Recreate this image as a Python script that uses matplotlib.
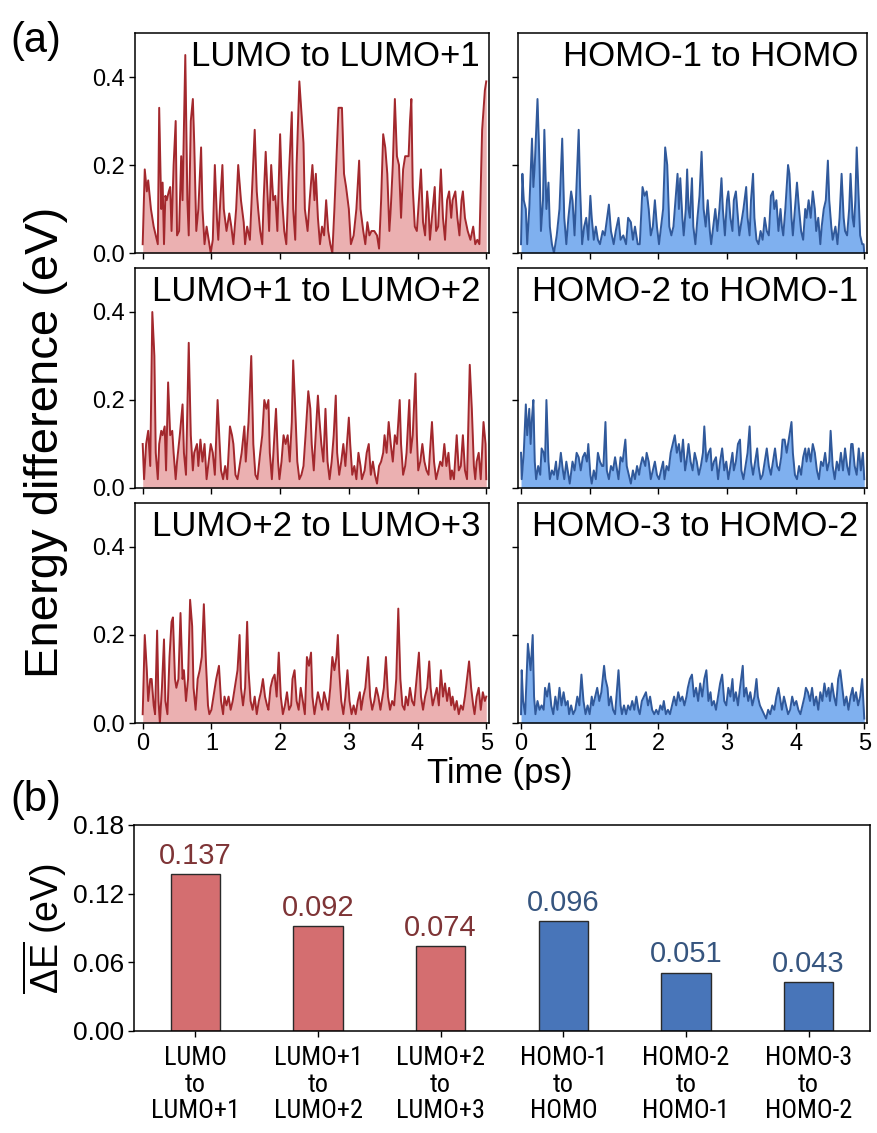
import numpy as np
import matplotlib
matplotlib.use("Agg")
import matplotlib.pyplot as plt
from matplotlib import font_manager

plt.rcParams['font.family'] = ['Liberation Sans', 'DejaVu Sans']
plt.rcParams['mathtext.fontset'] = 'custom'
plt.rcParams['mathtext.rm'] = 'Liberation Sans'
plt.rcParams['mathtext.it'] = 'Liberation Sans'

# ---- energy-gap trajectories: (time in ps, gap in eV) ----
lumo_0_1 = [(0.00,0.02),(0.03,0.19),(0.06,0.14),(0.08,0.165),(0.12,0.10),(0.16,0.06),(0.19,0.04),(0.22,0.02),(0.24,0.33),(0.27,0.10),(0.29,0.16),(0.31,0.02),(0.33,0.13),(0.35,0.12),(0.38,0.14),(0.40,0.15),(0.42,0.05),(0.45,0.20),(0.48,0.30),(0.50,0.04),(0.53,0.05),(0.56,0.22),(0.58,0.12),(0.62,0.45),(0.65,0.12),(0.67,0.04),(0.70,0.30),(0.73,0.35),(0.75,0.25),(0.78,0.05),(0.81,0.10),(0.85,0.24),(0.87,0.10),(0.90,0.02),(0.93,0.06),(0.96,0.03),(0.99,0.00),(1.02,0.03),(1.05,0.20),(1.08,0.08),(1.10,0.03),(1.13,0.12),(1.16,0.20),(1.18,0.10),(1.22,0.05),(1.26,0.09),(1.29,0.06),(1.32,0.02),(1.36,0.10),(1.39,0.20),(1.43,0.12),(1.47,0.07),(1.49,0.02),(1.52,0.06),(1.56,0.03),(1.63,0.28),(1.66,0.14),(1.68,0.10),(1.71,0.05),(1.74,0.02),(1.76,0.12),(1.79,0.23),(1.82,0.12),(1.84,0.05),(1.87,0.20),(1.90,0.12),(1.93,0.13),(1.96,0.05),(2.00,0.27),(2.03,0.12),(2.06,0.05),(2.09,0.02),(2.12,0.15),(2.17,0.32),(2.19,0.10),(2.22,0.03),(2.24,0.20),(2.28,0.39),(2.31,0.32),(2.34,0.25),(2.36,0.10),(2.40,0.05),(2.43,0.12),(2.47,0.20),(2.50,0.12),(2.52,0.18),(2.55,0.08),(2.58,0.02),(2.61,0.06),(2.64,0.04),(2.67,0.12),(2.70,0.05),(2.73,0.02),(2.76,0.00),(2.79,0.10),(2.83,0.25),(2.85,0.33),(2.90,0.33),(2.93,0.18),(2.96,0.15),(3.00,0.10),(3.03,0.02),(3.07,0.04),(3.11,0.10),(3.15,0.21),(3.17,0.10),(3.21,0.05),(3.24,0.02),(3.27,0.07),(3.30,0.04),(3.33,0.05),(3.37,0.05),(3.41,0.04),(3.44,0.01),(3.47,0.12),(3.50,0.27),(3.53,0.24),(3.56,0.18),(3.59,0.05),(3.61,0.10),(3.64,0.20),(3.67,0.35),(3.70,0.22),(3.73,0.20),(3.76,0.08),(3.79,0.19),(3.82,0.22),(3.87,0.22),(3.89,0.30),(3.91,0.35),(3.93,0.15),(3.96,0.06),(3.99,0.05),(4.02,0.12),(4.05,0.19),(4.08,0.07),(4.11,0.04),(4.14,0.14),(4.16,0.10),(4.18,0.03),(4.22,0.10),(4.25,0.15),(4.27,0.05),(4.30,0.06),(4.34,0.19),(4.37,0.08),(4.40,0.03),(4.43,0.12),(4.46,0.14),(4.49,0.08),(4.51,0.12),(4.55,0.14),(4.58,0.08),(4.61,0.04),(4.64,0.12),(4.66,0.14),(4.69,0.08),(4.73,0.05),(4.77,0.03),(4.81,0.06),(4.84,0.02),(4.87,0.03),(4.90,0.02),(4.94,0.28),(4.98,0.37),(5.00,0.39)]

lumo_1_2 = [(0.00,0.10),(0.02,0.02),(0.05,0.10),(0.08,0.13),(0.11,0.05),(0.14,0.40),(0.17,0.30),(0.19,0.08),(0.22,0.02),(0.24,0.10),(0.27,0.13),(0.29,0.12),(0.32,0.14),(0.34,0.04),(0.37,0.24),(0.40,0.12),(0.43,0.13),(0.45,0.08),(0.48,0.02),(0.50,0.06),(0.54,0.12),(0.58,0.19),(0.60,0.08),(0.63,0.03),(0.67,0.33),(0.70,0.12),(0.73,0.04),(0.75,0.08),(0.79,0.10),(0.81,0.05),(0.84,0.11),(0.87,0.06),(0.90,0.10),(0.93,0.02),(0.96,0.06),(0.99,0.10),(1.02,0.08),(1.05,0.03),(1.09,0.20),(1.12,0.10),(1.14,0.04),(1.17,0.02),(1.20,0.05),(1.23,0.02),(1.27,0.14),(1.30,0.12),(1.32,0.10),(1.35,0.03),(1.38,0.02),(1.41,0.05),(1.44,0.08),(1.48,0.14),(1.50,0.06),(1.54,0.15),(1.58,0.30),(1.61,0.10),(1.64,0.03),(1.67,0.02),(1.71,0.08),(1.74,0.12),(1.77,0.20),(1.80,0.18),(1.83,0.20),(1.85,0.08),(1.88,0.02),(1.91,0.10),(1.94,0.18),(1.97,0.06),(1.99,0.02),(2.02,0.06),(2.05,0.12),(2.08,0.10),(2.11,0.12),(2.14,0.06),(2.17,0.15),(2.19,0.29),(2.22,0.18),(2.25,0.06),(2.28,0.02),(2.31,0.03),(2.34,0.05),(2.37,0.12),(2.41,0.22),(2.44,0.18),(2.46,0.10),(2.49,0.04),(2.51,0.10),(2.55,0.21),(2.57,0.16),(2.60,0.10),(2.63,0.06),(2.66,0.18),(2.69,0.06),(2.72,0.02),(2.75,0.06),(2.78,0.12),(2.81,0.21),(2.83,0.08),(2.86,0.03),(2.89,0.06),(2.92,0.10),(2.95,0.05),(3.00,0.16),(3.02,0.10),(3.05,0.03),(3.08,0.05),(3.11,0.02),(3.14,0.08),(3.17,0.05),(3.19,0.02),(3.23,0.04),(3.26,0.08),(3.29,0.10),(3.32,0.03),(3.35,0.06),(3.38,0.03),(3.41,0.01),(3.44,0.05),(3.47,0.06),(3.50,0.08),(3.52,0.12),(3.55,0.08),(3.58,0.15),(3.61,0.10),(3.64,0.06),(3.67,0.12),(3.70,0.10),(3.74,0.20),(3.76,0.10),(3.79,0.03),(3.82,0.05),(3.84,0.08),(3.88,0.20),(3.90,0.08),(3.93,0.12),(3.97,0.26),(3.99,0.12),(4.01,0.04),(4.04,0.06),(4.07,0.10),(4.10,0.06),(4.13,0.04),(4.16,0.03),(4.18,0.08),(4.21,0.15),(4.24,0.06),(4.27,0.02),(4.30,0.04),(4.33,0.06),(4.36,0.05),(4.39,0.10),(4.42,0.05),(4.45,0.08),(4.48,0.02),(4.50,0.04),(4.53,0.02),(4.57,0.12),(4.60,0.04),(4.63,0.05),(4.66,0.12),(4.69,0.04),(4.72,0.02),(4.76,0.28),(4.79,0.18),(4.82,0.05),(4.84,0.02),(4.86,0.06),(4.89,0.08),(4.92,0.02),(4.96,0.15),(4.99,0.10),(5.00,0.02)]

lumo_2_3 = [(0.00,0.02),(0.03,0.20),(0.06,0.12),(0.08,0.05),(0.11,0.10),(0.13,0.10),(0.16,0.04),(0.18,0.02),(0.21,0.21),(0.23,0.05),(0.25,0.00),(0.28,0.08),(0.31,0.19),(0.33,0.05),(0.36,0.02),(0.39,0.15),(0.42,0.23),(0.44,0.24),(0.47,0.10),(0.49,0.08),(0.52,0.10),(0.55,0.25),(0.58,0.10),(0.60,0.12),(0.63,0.05),(0.66,0.10),(0.69,0.28),(0.72,0.22),(0.74,0.08),(0.77,0.03),(0.80,0.10),(0.83,0.12),(0.86,0.15),(0.89,0.27),(0.92,0.14),(0.95,0.04),(0.97,0.02),(1.00,0.03),(1.03,0.06),(1.07,0.10),(1.11,0.13),(1.14,0.05),(1.17,0.02),(1.19,0.06),(1.22,0.04),(1.25,0.06),(1.28,0.03),(1.31,0.05),(1.34,0.08),(1.38,0.12),(1.41,0.20),(1.43,0.08),(1.46,0.04),(1.49,0.08),(1.52,0.23),(1.54,0.12),(1.57,0.05),(1.60,0.03),(1.63,0.06),(1.66,0.02),(1.69,0.05),(1.72,0.07),(1.75,0.10),(1.78,0.06),(1.81,0.04),(1.83,0.03),(1.86,0.08),(1.89,0.10),(1.92,0.11),(1.95,0.06),(1.98,0.16),(2.01,0.06),(2.04,0.02),(2.07,0.04),(2.10,0.07),(2.13,0.03),(2.16,0.04),(2.18,0.10),(2.21,0.12),(2.24,0.05),(2.27,0.03),(2.30,0.08),(2.33,0.05),(2.36,0.02),(2.39,0.15),(2.42,0.13),(2.45,0.16),(2.47,0.06),(2.50,0.02),(2.52,0.04),(2.55,0.07),(2.58,0.05),(2.61,0.03),(2.64,0.07),(2.67,0.05),(2.70,0.03),(2.73,0.08),(2.76,0.15),(2.79,0.12),(2.82,0.15),(2.84,0.20),(2.86,0.12),(2.89,0.05),(2.92,0.02),(2.95,0.06),(2.98,0.12),(3.01,0.05),(3.04,0.02),(3.07,0.04),(3.10,0.02),(3.13,0.05),(3.16,0.07),(3.18,0.03),(3.21,0.06),(3.24,0.08),(3.28,0.15),(3.31,0.06),(3.34,0.03),(3.37,0.05),(3.40,0.08),(3.43,0.06),(3.46,0.03),(3.49,0.06),(3.51,0.08),(3.54,0.15),(3.57,0.06),(3.60,0.03),(3.63,0.05),(3.66,0.04),(3.69,0.10),(3.72,0.26),(3.75,0.10),(3.78,0.04),(3.81,0.03),(3.83,0.06),(3.86,0.04),(3.89,0.08),(3.92,0.05),(3.95,0.04),(3.98,0.09),(4.02,0.16),(4.05,0.06),(4.08,0.03),(4.11,0.06),(4.14,0.08),(4.17,0.14),(4.19,0.08),(4.22,0.04),(4.25,0.06),(4.28,0.08),(4.31,0.04),(4.34,0.12),(4.37,0.06),(4.40,0.09),(4.43,0.05),(4.46,0.08),(4.49,0.04),(4.51,0.06),(4.54,0.03),(4.57,0.05),(4.60,0.02),(4.63,0.04),(4.66,0.03),(4.69,0.06),(4.72,0.10),(4.75,0.14),(4.78,0.08),(4.81,0.04),(4.83,0.02),(4.86,0.06),(4.89,0.08),(4.92,0.03),(4.95,0.07),(4.98,0.05),(5.00,0.06)]

homo_1_0 = [(0.00,0.02),(0.02,0.18),(0.04,0.12),(0.07,0.10),(0.09,0.02),(0.12,0.10),(0.16,0.26),(0.18,0.15),(0.20,0.20),(0.24,0.35),(0.27,0.20),(0.29,0.05),(0.32,0.12),(0.34,0.28),(0.37,0.10),(0.40,0.16),(0.42,0.06),(0.45,0.02),(0.48,0.00),(0.52,0.04),(0.56,0.10),(0.60,0.26),(0.63,0.08),(0.66,0.02),(0.69,0.08),(0.73,0.14),(0.75,0.12),(0.78,0.04),(0.80,0.12),(0.84,0.28),(0.86,0.15),(0.89,0.02),(0.92,0.06),(0.95,0.08),(0.98,0.03),(1.01,0.13),(1.03,0.08),(1.06,0.03),(1.09,0.06),(1.12,0.03),(1.15,0.02),(1.19,0.05),(1.22,0.04),(1.28,0.11),(1.31,0.05),(1.35,0.02),(1.38,0.05),(1.42,0.08),(1.45,0.03),(1.49,0.04),(1.53,0.02),(1.56,0.08),(1.60,0.07),(1.63,0.03),(1.66,0.06),(1.70,0.02),(1.73,0.02),(1.77,0.15),(1.80,0.13),(1.83,0.14),(1.86,0.10),(1.89,0.04),(1.92,0.06),(1.95,0.12),(1.98,0.06),(2.01,0.02),(2.04,0.06),(2.07,0.10),(2.10,0.24),(2.13,0.20),(2.16,0.06),(2.19,0.04),(2.22,0.06),(2.25,0.12),(2.28,0.18),(2.30,0.10),(2.32,0.17),(2.35,0.08),(2.37,0.04),(2.40,0.10),(2.42,0.19),(2.44,0.10),(2.46,0.08),(2.49,0.17),(2.51,0.06),(2.54,0.02),(2.57,0.08),(2.60,0.13),(2.63,0.23),(2.66,0.10),(2.69,0.06),(2.72,0.12),(2.75,0.05),(2.77,0.02),(2.80,0.06),(2.83,0.10),(2.86,0.05),(2.89,0.10),(2.92,0.17),(2.94,0.10),(2.97,0.04),(3.00,0.12),(3.02,0.14),(3.05,0.08),(3.08,0.05),(3.10,0.12),(3.13,0.14),(3.16,0.08),(3.18,0.04),(3.22,0.08),(3.24,0.10),(3.28,0.15),(3.30,0.08),(3.33,0.04),(3.35,0.12),(3.38,0.18),(3.40,0.08),(3.43,0.03),(3.46,0.02),(3.49,0.05),(3.52,0.03),(3.55,0.08),(3.58,0.05),(3.61,0.04),(3.64,0.13),(3.67,0.14),(3.69,0.10),(3.72,0.12),(3.75,0.05),(3.78,0.10),(3.80,0.06),(3.82,0.04),(3.85,0.10),(3.89,0.20),(3.91,0.18),(3.94,0.08),(3.96,0.04),(3.99,0.10),(4.02,0.16),(4.05,0.10),(4.08,0.05),(4.11,0.03),(4.14,0.10),(4.16,0.08),(4.19,0.12),(4.22,0.08),(4.25,0.14),(4.28,0.10),(4.30,0.05),(4.33,0.08),(4.36,0.02),(4.38,0.06),(4.41,0.10),(4.44,0.12),(4.47,0.21),(4.49,0.12),(4.52,0.06),(4.54,0.03),(4.58,0.06),(4.61,0.02),(4.64,0.08),(4.67,0.18),(4.70,0.08),(4.72,0.05),(4.75,0.04),(4.78,0.10),(4.80,0.18),(4.83,0.08),(4.85,0.06),(4.87,0.12),(4.89,0.24),(4.92,0.12),(4.94,0.04),(4.97,0.02),(4.99,0.02),(5.00,0.00)]

homo_2_1 = [(0.00,0.08),(0.01,0.02),(0.04,0.08),(0.07,0.19),(0.09,0.12),(0.12,0.18),(0.14,0.10),(0.16,0.16),(0.18,0.20),(0.20,0.06),(0.22,0.02),(0.25,0.05),(0.28,0.03),(0.30,0.09),(0.33,0.08),(0.35,0.06),(0.37,0.20),(0.40,0.06),(0.42,0.02),(0.45,0.04),(0.48,0.03),(0.51,0.06),(0.53,0.02),(0.56,0.05),(0.58,0.08),(0.61,0.04),(0.63,0.02),(0.66,0.06),(0.69,0.03),(0.71,0.01),(0.75,0.06),(0.78,0.04),(0.81,0.08),(0.84,0.07),(0.87,0.04),(0.90,0.07),(0.93,0.08),(0.96,0.06),(0.98,0.10),(1.01,0.03),(1.03,0.01),(1.06,0.04),(1.09,0.02),(1.12,0.08),(1.15,0.06),(1.18,0.05),(1.20,0.05),(1.23,0.15),(1.25,0.04),(1.28,0.02),(1.31,0.05),(1.34,0.04),(1.37,0.07),(1.39,0.05),(1.42,0.02),(1.45,0.07),(1.48,0.06),(1.52,0.11),(1.54,0.05),(1.57,0.03),(1.60,0.01),(1.63,0.04),(1.66,0.02),(1.69,0.05),(1.72,0.03),(1.74,0.05),(1.77,0.07),(1.81,0.05),(1.83,0.08),(1.86,0.06),(1.89,0.02),(1.92,0.04),(1.95,0.06),(1.98,0.03),(2.01,0.02),(2.04,0.04),(2.07,0.06),(2.09,0.02),(2.12,0.05),(2.15,0.04),(2.18,0.08),(2.21,0.10),(2.24,0.12),(2.27,0.08),(2.30,0.10),(2.33,0.06),(2.36,0.11),(2.39,0.04),(2.41,0.06),(2.44,0.10),(2.47,0.06),(2.50,0.04),(2.53,0.08),(2.56,0.06),(2.59,0.03),(2.62,0.05),(2.65,0.08),(2.67,0.14),(2.70,0.06),(2.73,0.08),(2.76,0.09),(2.78,0.04),(2.81,0.06),(2.84,0.07),(2.87,0.02),(2.90,0.06),(2.93,0.09),(2.96,0.04),(2.99,0.06),(3.02,0.02),(3.05,0.05),(3.08,0.08),(3.10,0.04),(3.13,0.06),(3.16,0.10),(3.19,0.11),(3.21,0.04),(3.24,0.02),(3.27,0.05),(3.30,0.08),(3.33,0.14),(3.35,0.06),(3.38,0.03),(3.41,0.06),(3.44,0.09),(3.46,0.05),(3.49,0.02),(3.52,0.03),(3.55,0.06),(3.58,0.09),(3.61,0.05),(3.64,0.03),(3.67,0.06),(3.70,0.09),(3.73,0.05),(3.76,0.04),(3.79,0.07),(3.81,0.11),(3.84,0.11),(3.87,0.08),(3.90,0.11),(3.94,0.15),(3.96,0.08),(3.99,0.03),(4.02,0.02),(4.05,0.05),(4.08,0.03),(4.11,0.07),(4.14,0.09),(4.16,0.06),(4.19,0.09),(4.22,0.06),(4.25,0.10),(4.28,0.08),(4.31,0.04),(4.34,0.02),(4.37,0.06),(4.40,0.05),(4.43,0.08),(4.46,0.04),(4.49,0.06),(4.51,0.13),(4.54,0.05),(4.57,0.02),(4.60,0.06),(4.63,0.04),(4.66,0.08),(4.69,0.04),(4.72,0.09),(4.75,0.05),(4.78,0.03),(4.81,0.10),(4.83,0.10),(4.86,0.05),(4.89,0.03),(4.92,0.09),(4.95,0.04),(4.98,0.08),(5.00,0.02)]

homo_3_2 = [(0.00,0.02),(0.01,0.12),(0.03,0.05),(0.06,0.02),(0.08,0.10),(0.10,0.18),(0.12,0.15),(0.14,0.12),(0.17,0.20),(0.19,0.06),(0.21,0.02),(0.24,0.05),(0.27,0.03),(0.30,0.04),(0.33,0.03),(0.35,0.08),(0.38,0.06),(0.41,0.09),(0.44,0.04),(0.47,0.02),(0.50,0.06),(0.53,0.03),(0.56,0.08),(0.59,0.04),(0.62,0.07),(0.65,0.04),(0.68,0.05),(0.70,0.02),(0.73,0.04),(0.76,0.02),(0.79,0.03),(0.82,0.06),(0.85,0.04),(0.88,0.11),(0.91,0.05),(0.94,0.02),(0.97,0.04),(1.00,0.02),(1.03,0.06),(1.05,0.04),(1.08,0.06),(1.11,0.08),(1.14,0.05),(1.17,0.07),(1.21,0.13),(1.23,0.10),(1.26,0.08),(1.28,0.04),(1.31,0.06),(1.34,0.03),(1.37,0.02),(1.39,0.06),(1.42,0.12),(1.45,0.04),(1.47,0.02),(1.50,0.04),(1.53,0.02),(1.56,0.04),(1.59,0.03),(1.62,0.05),(1.65,0.03),(1.68,0.06),(1.71,0.03),(1.73,0.02),(1.76,0.05),(1.79,0.06),(1.82,0.07),(1.85,0.04),(1.88,0.06),(1.91,0.03),(1.94,0.02),(1.97,0.03),(2.00,0.02),(2.03,0.04),(2.06,0.03),(2.08,0.05),(2.11,0.02),(2.14,0.03),(2.17,0.02),(2.20,0.04),(2.23,0.06),(2.26,0.04),(2.29,0.07),(2.32,0.05),(2.35,0.06),(2.38,0.04),(2.41,0.06),(2.43,0.08),(2.46,0.10),(2.49,0.11),(2.52,0.06),(2.55,0.08),(2.58,0.05),(2.61,0.09),(2.64,0.06),(2.67,0.10),(2.70,0.12),(2.73,0.05),(2.76,0.07),(2.78,0.04),(2.81,0.05),(2.84,0.03),(2.87,0.06),(2.90,0.09),(2.93,0.11),(2.96,0.05),(2.99,0.04),(3.02,0.08),(3.05,0.06),(3.08,0.10),(3.10,0.05),(3.13,0.07),(3.16,0.04),(3.19,0.08),(3.23,0.13),(3.25,0.06),(3.28,0.08),(3.31,0.05),(3.34,0.07),(3.37,0.04),(3.40,0.06),(3.43,0.10),(3.45,0.06),(3.48,0.04),(3.51,0.03),(3.54,0.02),(3.57,0.01),(3.60,0.03),(3.63,0.02),(3.66,0.04),(3.69,0.03),(3.72,0.06),(3.75,0.08),(3.78,0.05),(3.80,0.03),(3.83,0.06),(3.86,0.04),(3.89,0.02),(3.92,0.03),(3.95,0.06),(3.98,0.04),(4.01,0.05),(4.04,0.03),(4.07,0.02),(4.10,0.04),(4.13,0.06),(4.15,0.08),(4.18,0.07),(4.21,0.05),(4.24,0.08),(4.27,0.04),(4.30,0.06),(4.33,0.03),(4.36,0.07),(4.39,0.05),(4.42,0.09),(4.45,0.06),(4.48,0.08),(4.50,0.05),(4.53,0.09),(4.56,0.06),(4.59,0.04),(4.62,0.10),(4.65,0.12),(4.68,0.08),(4.71,0.04),(4.74,0.06),(4.77,0.03),(4.80,0.06),(4.83,0.08),(4.85,0.05),(4.88,0.07),(4.91,0.04),(4.94,0.06),(4.97,0.10),(4.99,0.04),(5.00,0.01)]

# ---- time-averaged gaps ----
pair_labels = ['LUMO\nto\nLUMO+1', 'LUMO+1\nto\nLUMO+2', 'LUMO+2\nto\nLUMO+3',
               'HOMO-1\nto\nHOMO', 'HOMO-2\nto\nHOMO-1', 'HOMO-3\nto\nHOMO-2']
mean_gap = [0.137, 0.092, 0.074, 0.096, 0.051, 0.043]

panel_titles = [['LUMO to LUMO+1', 'HOMO-1 to HOMO'],
                ['LUMO+1 to LUMO+2', 'HOMO-2 to HOMO-1'],
                ['LUMO+2 to LUMO+3', 'HOMO-3 to HOMO-2']]
panel_data = [[lumo_0_1, homo_1_0],
              [lumo_1_2, homo_2_1],
              [lumo_2_3, homo_3_2]]

RED_LINE, RED_FILL = '#A3282D', '#EBB0B1'
BLUE_LINE, BLUE_FILL = '#30599B', '#7FB0EF'
RED_BAR, BLUE_BAR = '#D46E70', '#4875B9'
RED_TXT, BLUE_TXT = '#7E3436', '#36557F'

# a condensed face for the category labels, if one is installed
installed = font_manager.fontManager.ttflist
names = {f.name for f in installed}
cat_font = dict(family='Liberation Sans', fontsize=16)
for cand in ['Liberation Sans Narrow', 'Arial Narrow', 'Roboto Condensed',
             'Open Sans Condensed', 'Noto Sans Condensed']:
    if cand in names:
        cat_font = dict(family=cand, fontsize=19)
        break
else:
    if any(f.name == 'DejaVu Sans' and 'condensed' in str(f.stretch) for f in installed):
        cat_font = dict(family='DejaVu Sans', fontstretch='condensed', fontsize=17)

W, H = 877, 1133
fig = plt.figure(figsize=(W / 100, H / 100), dpi=100)

def fx(px):
    return px / W

def fy(py):
    return 1 - py / H

col_left = [135, 518]
col_right = [489, 867]
row_top = [33, 268, 503]
row_bot = [253, 488, 723]
xmin = [-0.112, -0.044]

for r in range(3):
    for c in range(2):
        ax = fig.add_axes([fx(col_left[c]), fy(row_bot[r]),
                           fx(col_right[c] - col_left[c]), (row_bot[r] - row_top[r]) / H])
        t, e = zip(*panel_data[r][c])
        t = np.array(t)
        e = np.array(e)
        line_c, fill_c = (RED_LINE, RED_FILL) if c == 0 else (BLUE_LINE, BLUE_FILL)
        ax.fill_between(t, 0, e, color=fill_c, lw=0)
        ax.plot(t, e, color=line_c, lw=1.4)
        ax.set_xlim(xmin[c], 5.04)
        ax.set_ylim(0, 0.5)
        ax.set_xticks(range(6))
        ax.set_yticks([0.0, 0.2, 0.4])
        ax.tick_params(direction='out', length=4, width=1.0, labelsize=17, pad=3)
        for s in ax.spines.values():
            s.set_linewidth(1.1)
        if c == 0:
            ax.set_yticklabels(['0.0', '0.2', '0.4'])
        else:
            ax.set_yticklabels([])
        if r < 2:
            ax.set_xticklabels([])
        ax.text(0.975, 0.895, panel_titles[r][c], transform=ax.transAxes,
                ha='right', va='center', fontsize=25)

fig.text(fx(46), fy(442), 'Energy difference (eV)', rotation=90,
         ha='center', va='center', fontsize=34)
fig.text(fx(500), fy(773), 'Time (ps)', ha='center', va='center', fontsize=25)
fig.text(fx(36), fy(41), '(a)', ha='center', va='center', fontsize=30)
fig.text(fx(36), fy(800), '(b)', ha='center', va='center', fontsize=30)

# ---- bar chart of mean gaps ----
axb = fig.add_axes([fx(134), fy(1031), fx(870 - 134), (1031 - 825) / H])
xpos = np.arange(len(mean_gap))
bar_colors = [RED_BAR] * 3 + [BLUE_BAR] * 3
txt_colors = [RED_TXT] * 3 + [BLUE_TXT] * 3
axb.bar(xpos, mean_gap, width=0.4, color=bar_colors, edgecolor='#2a2a2a', lw=1.0)
for x, v, tc in zip(xpos, mean_gap, txt_colors):
    axb.annotate(f'{v:.3f}', (x, v), xytext=(0, 3), textcoords='offset points',
                 ha='center', va='bottom', fontsize=21, color=tc)
axb.set_xlim(-0.5, 5.5)
axb.set_ylim(0, 0.18)
axb.set_yticks([0.0, 0.06, 0.12, 0.18])
axb.set_yticklabels(['0.00', '0.06', '0.12', '0.18'])
axb.set_xticks(xpos)
axb.set_xticklabels(pair_labels, linespacing=1.12, **cat_font)
axb.tick_params(axis='y', direction='out', length=4, width=1.0, labelsize=19, pad=3)
axb.tick_params(axis='x', direction='out', length=4, width=1.0, pad=7)
for s in axb.spines.values():
    s.set_linewidth(1.1)
fig.text(fx(45), fy(928), r'$\overline{\Delta\mathrm{E}}$ (eV)', rotation=90,
         ha='center', va='center', fontsize=27)

fig.savefig('out.png', dpi=100)
